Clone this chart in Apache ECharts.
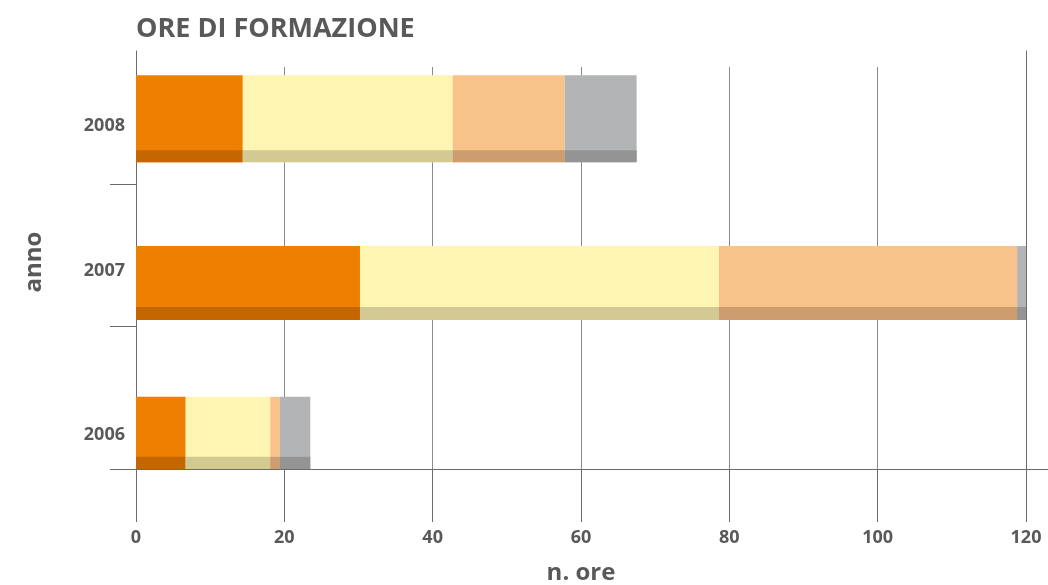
<!DOCTYPE html>
<html>
<head>
<meta charset="utf-8">
<script src="https://cdn.jsdelivr.net/npm/echarts@6/dist/echarts.min.js"></script>
<style>
  html, body { margin: 0; padding: 0; background: #ffffff; }
  #chart { width: 1048px; height: 585px; }
</style>
</head>
<body>
<div id="chart"></div>
<script>
// Years, listed top to bottom
const categories = ['2008', '2007', '2006'];

// Training hours per block, same order as the years
const orangeHours = [14.4, 30.2, 6.7];
const yellowHours = [28.3, 48.4, 11.4];
const peachHours  = [15.1, 40.2, 1.3];
const greyHours   = [9.7, 1.2, 4.1];

// Value-axis ticks
const xTicks = [0, 20, 40, 60, 80, 100, 120];

// ---- styling ----
const FONT = '"Open Sans", "Liberation Sans", sans-serif';
const TEXT = '#595959';
const AXIS = '#6b6b6b';
const GRIDLINE = '#8a8a8a';
const W = 1048, H = 585;
const GRID = { left: 136, right: 22, top: 42, bottom: 116 };
const CAT_TICK = 26;

// bar box per year, in px relative to the band centre
const BAR_BOX = [
  { top: -38, bottom: 49, strip: 12, label: 12.5 },
  { top: -9.5, bottom: 64.5, strip: 13, label: 15.5 },
  { top: -1, bottom: 72, strip: 13, label: 37 }
];

const layers = [
  { name: 'A', values: orangeHours, color: '#EF7F00', shade: '#C46700' },
  { name: 'B', values: yellowHours, color: '#FFF5B3', shade: '#D3C992' },
  { name: 'C', values: peachHours,  color: '#F8C38A', shade: '#CD9C6F' },
  { name: 'D', values: greyHours,   color: '#B3B4B5', shade: '#949495' }
];

const xMin = xTicks[0];
const xMax = xTicks[xTicks.length - 1];
const xStep = xTicks[1] - xTicks[0];

// stacked bars: each piece runs from the running total to the new total
const running = categories.map(() => 0);
const barSeries = layers.map(layer => {
  const data = layer.values.map((v, i) => {
    const start = running[i];
    running[i] += v;
    return [i, start, running[i]];
  });
  return {
    type: 'custom',
    name: layer.name,
    xAxisIndex: 0,
    yAxisIndex: 0,
    encode: { x: [1, 2], y: 0 },
    data: data,
    z: 5,
    renderItem: function (params, api) {
      const i = api.value(0);
      const a = api.coord([api.value(1), i]);
      const b = api.coord([api.value(2), i]);
      const box = BAR_BOX[i];
      const top = a[1] + box.top;
      const bottom = a[1] + box.bottom;
      const w = b[0] - a[0];
      return {
        type: 'group',
        children: [
          { type: 'rect', shape: { x: a[0], y: top, width: w, height: bottom - top }, style: { fill: layer.color } },
          { type: 'rect', shape: { x: a[0], y: bottom - box.strip, width: w, height: box.strip }, style: { fill: layer.shade } }
        ]
      };
    }
  };
});

// year labels sit beside their bars
const labelSeries = {
  type: 'custom',
  xAxisIndex: 0,
  yAxisIndex: 0,
  encode: { x: 1, y: 0 },
  data: categories.map((c, i) => [i, xMin]),
  z: 6,
  renderItem: function (params, api) {
    const i = api.value(0);
    const p = api.coord([xMin, i]);
    return {
      type: 'text',
      x: p[0] - 11,
      y: p[1] + BAR_BOX[i].label,
      style: {
        text: categories[i],
        align: 'right',
        verticalAlign: 'middle',
        fontFamily: FONT,
        fontSize: 18,
        fontWeight: 'bold',
        fill: TEXT
      }
    };
  }
};

const chart = echarts.init(document.getElementById('chart'), null, { renderer: 'canvas' });

const gridBase = { outerBoundsMode: 'none', containLabel: false };

chart.setOption({
  animation: false,
  backgroundColor: '#ffffff',
  title: {
    text: 'ORE DI FORMAZIONE',
    left: 131,
    top: 11,
    textStyle: { fontFamily: FONT, fontSize: 27, fontWeight: 'bold', color: TEXT }
  },
  grid: [
    Object.assign({ left: GRID.left, right: GRID.right, top: GRID.top, bottom: GRID.bottom }, gridBase),
    Object.assign({ left: GRID.left, right: GRID.right, top: 67, bottom: GRID.bottom }, gridBase),
    Object.assign({ left: GRID.left, right: GRID.right, top: 51, bottom: 80 }, gridBase)
  ],
  xAxis: [
    {
      gridIndex: 0, type: 'value', min: xMin, max: xMax, interval: xStep,
      name: 'n. ore', nameLocation: 'middle', nameGap: 92,
      nameTextStyle: { fontFamily: FONT, fontSize: 24, fontWeight: 'bold', color: TEXT },
      axisLine: { show: true, onZero: false, lineStyle: { color: AXIS, width: 1 } },
      axisTick: { show: true, length: 53, lineStyle: { color: AXIS, width: 1 } },
      axisLabel: { margin: 60, fontFamily: FONT, fontSize: 18, fontWeight: 'bold', color: TEXT },
      splitLine: { show: false }
    },
    {
      gridIndex: 1, type: 'value', min: xMin, max: xMax, interval: xStep,
      axisLine: { show: false }, axisTick: { show: false }, axisLabel: { show: false },
      splitLine: { show: true, lineStyle: { color: GRIDLINE, width: 1 } }
    },
    {
      gridIndex: 2, type: 'value', min: xMin, max: xMax, show: false
    }
  ],
  yAxis: [
    {
      gridIndex: 0, type: 'category', inverse: true, data: categories,
      name: 'anno', nameLocation: 'middle', nameGap: 90, nameRotate: 90,
      nameTextStyle: { fontFamily: FONT, fontSize: 24, fontWeight: 'bold', color: TEXT, padding: [0, 13, 0, 0] },
      axisLine: { show: false },
      axisTick: { show: true, length: CAT_TICK, interval: function (idx) { return idx !== 0; }, lineStyle: { color: AXIS, width: 1 } },
      axisLabel: { show: false },
      splitLine: { show: false }
    },
    {
      gridIndex: 1, type: 'value', show: false
    },
    {
      gridIndex: 2, type: 'value', position: 'left',
      axisLine: { show: true, onZero: false, lineStyle: { color: AXIS, width: 1 } },
      axisTick: { show: false }, axisLabel: { show: false }, splitLine: { show: false }
    },
    {
      gridIndex: 2, type: 'value', position: 'right',
      axisLine: { show: true, onZero: false, lineStyle: { color: AXIS, width: 1 } },
      axisTick: { show: false }, axisLabel: { show: false }, splitLine: { show: false }
    }
  ],
  series: barSeries.concat([labelSeries])
});

// the baseline reaches out past both ends of the value axis
const yBase = H - GRID.bottom + 0.5;
chart.setOption({
  graphic: [{
    type: 'line',
    shape: { x1: GRID.left - CAT_TICK, y1: yBase, x2: W, y2: yBase },
    style: { stroke: AXIS, lineWidth: 1 },
    silent: true,
    z: 10
  }]
});
</script>
</body>
</html>
